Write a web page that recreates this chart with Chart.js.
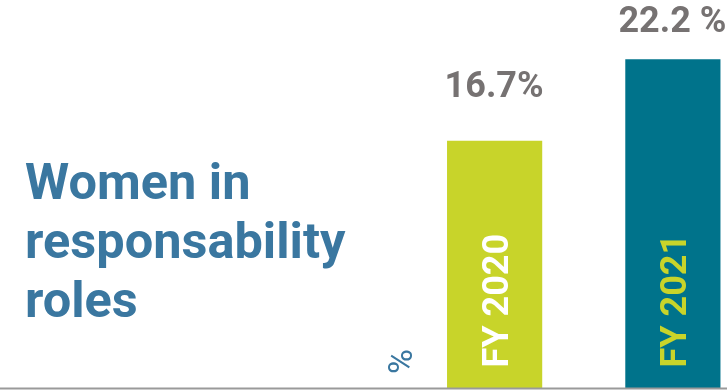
<!DOCTYPE HTML>
<html>
<head>
  <meta name='viewport' content='width=device-width, initial-scale=1'>
  <title>Women in responsability roles</title>
  <script src='https://cdn.jsdelivr.net/npm/chart.js'></script>
  <style>
    body {
      margin: 0;
      padding: 0;
      width: 727px;
      height: 390px;
      overflow: hidden;
      background-color: #fff;
      position: relative;
      font-family: Roboto, Arial, sans-serif;
    }
    .title {
      position: absolute;
      left: 25px;
      top: 152px;
      font-size: 50.5px;
      line-height: 59px;
      font-weight: bold;
      color: #3a77a0;
    }
    .chart-box {
      position: absolute;
      left: 0;
      top: 0;
      width: 762px; /* chart area runs past the right edge, like the original */
      height: 390px;
    }
  </style>
</head>
<body>
  <div class='title'>Women in<br>responsability<br>roles</div>
  <div class='chart-box'><canvas id='womenChart'></canvas></div>
  <script>
    var categories = ['FY 2020', 'FY 2021'];
    var shareValues = [16.7, 22.2];
    var valueLabels = ['16.7%', '22.2 %'];
    var unitLabel = '%';

    var barColors = ['#c8d42a', '#00738b'];
    var catTextColors = ['#ffffff', '#c8d42a'];

    // draws the baseline, the value on top of each bar, the FY text inside the bars and the unit mark
    var barTextPlugin = {
      id: 'barText',
      afterDatasetsDraw: function(chart, args, opts) {
        var ctx = chart.ctx;
        var yScale = chart.scales.y;
        var zeroY = yScale.getPixelForValue(0);
        var bars = chart.getDatasetMeta(0).data;

        ctx.save();
        ctx.strokeStyle = '#9a9a9a';
        ctx.lineWidth = 2;
        ctx.beginPath();
        ctx.moveTo(0, zeroY);
        ctx.lineTo(chart.width, zeroY);
        ctx.stroke();

        bars.forEach(function(bar, i) {
          // value above the bar
          ctx.fillStyle = '#767272';
          ctx.font = 'bold 36px Roboto';
          ctx.textAlign = 'center';
          ctx.textBaseline = 'alphabetic';
          ctx.fillText(valueLabels[i], bar.x - 0.5, bar.y - opts.valueGap[i]);

          // category name inside the bar, reading upwards
          ctx.save();
          ctx.translate(bar.x, zeroY - 21);
          ctx.rotate(-Math.PI / 2);
          ctx.fillStyle = catTextColors[i];
          ctx.font = 'bold 36px Roboto';
          ctx.textAlign = 'left';
          ctx.fillText(categories[i], 0, 13);
          ctx.restore();
        });

        // unit mark left of the first bar
        ctx.save();
        ctx.translate(bars[0].x - 91, zeroY - 27);
        ctx.rotate(-Math.PI / 2);
        ctx.fillStyle = '#3a77a0';
        ctx.font = '34px Roboto';
        ctx.textAlign = 'center';
        ctx.textBaseline = 'middle';
        ctx.fillText(unitLabel, 0, 0);
        ctx.restore();

        ctx.restore();
      }
    };

    var ctx = document.getElementById('womenChart').getContext('2d');
    var womenChart = new Chart(ctx, {
      type: 'bar',
      data: {
        labels: categories,
        datasets: [{
          data: shareValues,
          backgroundColor: barColors,
          borderWidth: 0,
          categoryPercentage: 1,
          barPercentage: 0.534
        }]
      },
      options: {
        responsive: true,
        maintainAspectRatio: false,
        animation: false,
        layout: {
          padding: { left: 405.5, right: 0, top: 0, bottom: 1.5 }
        },
        plugins: {
          legend: { display: false },
          tooltip: { enabled: false },
          barText: { valueGap: [44, 27] }
        },
        scales: {
          x: { display: false },
          y: { display: false, min: 0, max: 26.2 }
        }
      },
      plugins: [barTextPlugin]
    });
  </script>
</body>
</html>
